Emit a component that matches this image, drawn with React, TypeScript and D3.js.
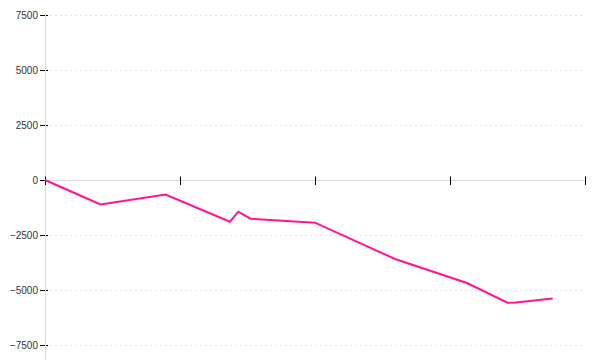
import React from "react";
import * as d3 from "d3";

const xValues = [0, 0.411, 0.893, 1.37, 1.432, 1.522, 2.0, 2.593, 3.126, 3.426, 3.489, 3.761];
const yValues = [0, -1114, -659, -1895, -1441, -1759, -1941, -3591, -4682, -5577, -5568, -5386];
const yTicks = [-7500, -5000, -2500, 0, 2500, 5000, 7500];
const xTicks = [0, 1, 2, 3, 4];

export default function App() {
  const width = 600;
  const height = 360;
  const x = d3.scaleLinear().domain([0, 4]).range([45, 585]);
  const y = d3.scaleLinear().domain([-7500, 7500]).range([345, 15]);
  const data = xValues.map((v, i) => [v, yValues[i]] as [number, number]);
  const line = d3
    .line<[number, number]>()
    .x((d) => x(d[0]))
    .y((d) => y(d[1]));
  const fmt = (v: number) => (v < 0 ? "\u2212" + Math.abs(v) : String(v));
  return (
    <svg
      width={width}
      height={height}
      style={{ position: "absolute", left: 0, top: 0, display: "block" }}
    >
      {yTicks
        .filter((t) => t !== 0)
        .map((t) => (
          <line
            key={"g" + t}
            x1={50}
            x2={585}
            y1={y(t) + 0.5}
            y2={y(t) + 0.5}
            stroke="#e6e6e6"
            strokeDasharray="2,3"
          />
        ))}
      {yTicks.map((t) => (
        <g key={"yt" + t}>
          <line x1={40} x2={48} y1={y(t) + 0.5} y2={y(t) + 0.5} stroke="#000" />
          <text
            x={38}
            y={y(t)}
            dy="0.35em"
            textAnchor="end"
            fontFamily="Liberation Sans, Arial, sans-serif"
            fontSize={10}
            fill="#333"
          >
            {fmt(t)}
          </text>
        </g>
      ))}
      <line x1={45.5} x2={45.5} y1={15} y2={360} stroke="#dddddd" />
      <line x1={45} x2={585} y1={y(0) + 0.5} y2={y(0) + 0.5} stroke="#dddddd" />
      {xTicks.map((t) => (
        <line
          key={"xt" + t}
          x1={x(t) + 0.5}
          x2={x(t) + 0.5}
          y1={y(0) - 3.5}
          y2={y(0) + 5}
          stroke="#000"
        />
      ))}
      <path d={line(data) || ""} fill="none" stroke="#ff1493" strokeWidth={2} />
    </svg>
  );
}
